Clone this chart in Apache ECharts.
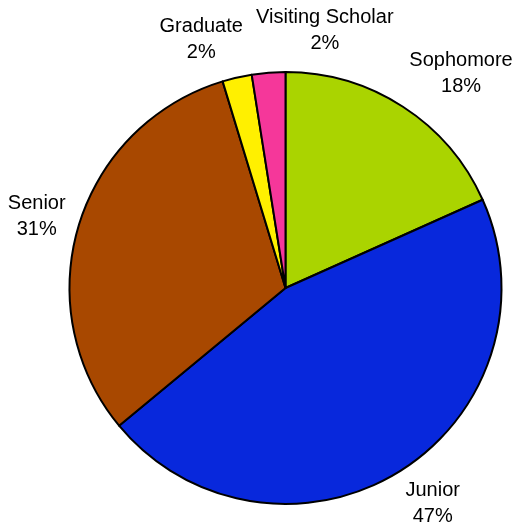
<!DOCTYPE html>
<html>
<head>
<meta charset="utf-8">
<style>
  html, body { margin: 0; padding: 0; background: #fff; }
  #chart { width: 520px; height: 529px; }
</style>
<script src="https://cdn.jsdelivr.net/npm/echarts@6/dist/echarts.min.js"></script>
</head>
<body>
<div id="chart"></div>
<script>
// data
var categories = ["Sophomore", "Junior", "Senior", "Graduate", "Visiting Scholar"];
var shares = [18.3, 45.7, 31.3, 2.2, 2.5];
var pctLabels = ["18%", "47%", "31%", "2%", "2%"];
var colors = ["#aad400", "#0828dc", "#a84800", "#fff000", "#f5379a"];

var cx = 285.5, cy = 288, r = 216;
// small angle nudges (deg) so labels sit where the original put them
var labelNudge = [6.4, -2.5, -0.6, -5.8, 13.2];
var labelGap = 8;

var total = shares.reduce(function (a, b) { return a + b; }, 0);
var midAngles = [];
var acc = 0;
shares.forEach(function (v) {
  midAngles.push((acc + v / 2) / total * 360);
  acc += v;
});

var chart = echarts.init(document.getElementById("chart"));
var option = {
  animation: false,
  color: colors,
  series: [
    {
      type: "pie",
      center: [cx, cy],
      radius: r,
      startAngle: 90,
      clockwise: true,
      silent: true,
      itemStyle: {
        borderColor: "#000",
        borderWidth: 2
      },
      label: {
        show: true,
        position: "outside",
        color: "#000",
        fontFamily: "Liberation Sans, Arial, sans-serif",
        fontSize: 20,
        lineHeight: 26,
        align: "center",
        overflow: "none",
        formatter: function (p) {
          return p.name + "\n" + pctLabels[p.dataIndex];
        }
      },
      labelLine: { show: false },
      labelLayout: function (params) {
        var i = params.dataIndex;
        var a = (midAngles[i] + labelNudge[i]) * Math.PI / 180;
        var s = Math.sin(a), c = Math.cos(a);
        var w = params.labelRect.width, h = params.labelRect.height;
        var half = Math.abs(s) * w / 2 + Math.abs(c) * h / 2;
        var d = r + labelGap + half;
        return {
          x: cx + d * s,
          y: cy - d * c,
          align: "center",
          verticalAlign: "middle"
        };
      },
      data: categories.map(function (name, i) {
        return { name: name, value: shares[i] };
      })
    }
  ]
};
chart.setOption(option);
</script>
</body>
</html>
